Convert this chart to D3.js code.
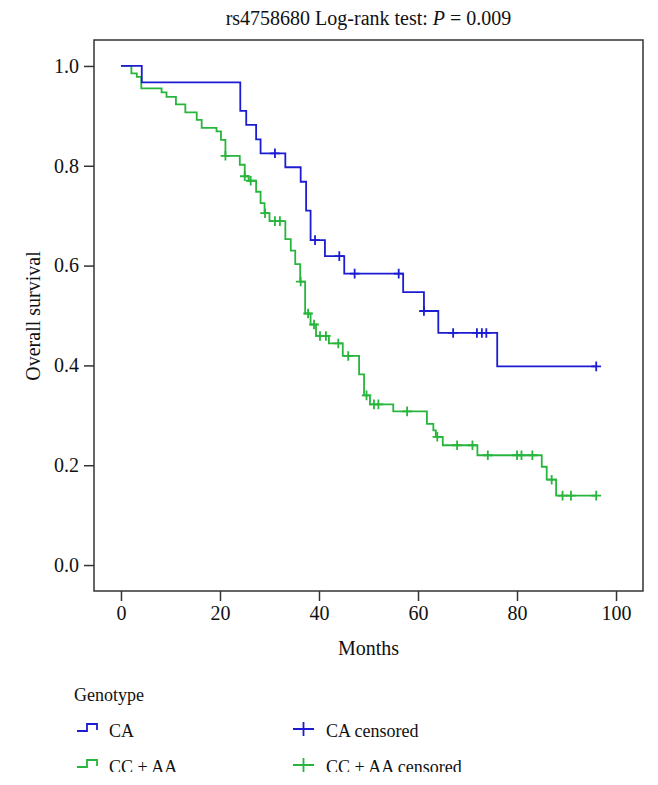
<!DOCTYPE html>
<html>
<head>
<meta charset="utf-8">
<script src="https://cdn.jsdelivr.net/npm/d3@7/dist/d3.min.js"></script>
<style>
  html, body { margin: 0; padding: 0; background: #fff; }
  svg { display: block; }
  text { font-family: "Liberation Serif", "DejaVu Serif", serif; fill: #111; }
</style>
</head>
<body>
<div id="chart"></div>
<script>
// ---- Data ----
const caTimes = [0, 4.2, 24.1, 25.3, 27.3, 28.2, 33.2, 36.3, 37.4, 38.3, 41.2, 45.1, 57.0, 61.2, 64.1, 76.0];
const caSurv  = [1.0, 0.967, 0.910, 0.882, 0.853, 0.825, 0.797, 0.768, 0.710, 0.651, 0.619, 0.584, 0.547, 0.509, 0.465, 0.398];
const caCensor = [31.1, 39.2, 44.1, 47.2, 56.1, 61.2, 67.1, 71.9, 72.9, 73.8, 96.0];
const caEnd = 96.0;

const ccTimes = [0, 2.1, 3.2, 4.1, 8.2, 9.2, 11.1, 13.0, 15.3, 16.3, 19.3, 20.2, 21.1, 24.0, 25.0, 25.8, 27.3, 28.2, 29.0, 30.0, 33.2, 34.3, 35.2, 36.2, 37.2, 38.3, 39.4, 42.0, 44.8, 48.1, 49.1, 50.3, 55.0, 61.8, 63.1, 63.6, 65.0, 72.0, 85.0, 86.0, 87.9];
const ccSurv  = [1.0, 0.985, 0.978, 0.955, 0.947, 0.938, 0.923, 0.907, 0.892, 0.876, 0.869, 0.852, 0.820, 0.802, 0.779, 0.770, 0.748, 0.725, 0.705, 0.689, 0.653, 0.630, 0.603, 0.568, 0.504, 0.482, 0.459, 0.444, 0.419, 0.382, 0.340, 0.322, 0.308, 0.283, 0.270, 0.257, 0.240, 0.220, 0.197, 0.171, 0.139];
const ccCensor = [21.1, 25.0, 26.2, 29.1, 31.1, 32.1, 36.3, 37.8, 39.0, 40.2, 41.4, 43.9, 45.9, 49.6, 51.1, 52.0, 57.8, 63.9, 67.9, 71.0, 74.1, 80.0, 80.9, 83.1, 87.0, 89.2, 90.9, 96.0];
const ccEnd = 96.0;

const xTicks = [0, 20, 40, 60, 80, 100];
const yTicks = [0.0, 0.2, 0.4, 0.6, 0.8, 1.0];
const seriesNames = ["CA", "CC + AA"];
const censorNames = ["CA censored", "CC + AA censored"];
const titleText = "rs4758680 Log-rank test: ";
const pText = "P";
const pValue = " = 0.009";
const xLabel = "Months";
const yLabel = "Overall survival";
const legendTitle = "Genotype";

// ---- Layout ----
const W = 658, H = 785;
const box = { left: 94, right: 643, top: 40, bottom: 591 };
const colors = ["#1c1cd2", "#27b53c"];

const svg = d3.select("#chart").append("svg").attr("width", W).attr("height", H);

const x = d3.scaleLinear().domain([-5.45, 105.45]).range([box.left, box.right]);
const y = d3.scaleLinear().domain([-0.052, 1.052]).range([box.bottom, box.top]);

// frame
svg.append("rect")
  .attr("x", box.left).attr("y", box.top)
  .attr("width", box.right - box.left).attr("height", box.bottom - box.top)
  .attr("fill", "none").attr("stroke", "#333").attr("stroke-width", 1.5);

// axes
const xAxis = d3.axisBottom(x).tickValues(xTicks).tickSize(10).tickPadding(5).tickFormat(d3.format("d"));
const gx = svg.append("g").attr("transform", `translate(0,${box.bottom})`).call(xAxis);
gx.select(".domain").remove();
gx.selectAll("line").attr("stroke", "#333").attr("stroke-width", 1.5);
gx.selectAll("text").style("font-size", "20px").attr("fill", "#111").style("font-family", '"Liberation Serif", serif');

const yAxis = d3.axisLeft(y).tickValues(yTicks).tickSize(10).tickPadding(5).tickFormat(d3.format(".1f"));
const gy = svg.append("g").attr("transform", `translate(${box.left},0)`).call(yAxis);
gy.select(".domain").remove();
gy.selectAll("line").attr("stroke", "#333").attr("stroke-width", 1.5);
gy.selectAll("text").style("font-size", "20px").attr("fill", "#111").style("font-family", '"Liberation Serif", serif');

// axis labels
svg.append("text").attr("x", (box.left + box.right) / 2).attr("y", 655)
  .attr("text-anchor", "middle").style("font-size", "20px").text(xLabel);
svg.append("text").attr("transform", `translate(40,316) rotate(-90)`)
  .attr("text-anchor", "middle").style("font-size", "20px").text(yLabel);

// title
const t = svg.append("text").attr("x", (box.left + box.right) / 2).attr("y", 25)
  .attr("text-anchor", "middle").style("font-size", "20px");
t.append("tspan").text(titleText);
t.append("tspan").style("font-style", "italic").text(pText);
t.append("tspan").text(pValue);

// step curves
function stepPoints(times, surv, end) {
  const pts = times.map((tm, i) => [tm, surv[i]]);
  pts.push([end, surv[surv.length - 1]]);
  return pts;
}
function survAt(times, surv, tm) {
  let s = surv[0];
  for (let i = 0; i < times.length; i++) if (times[i] <= tm + 1e-9) s = surv[i];
  return s;
}
const line = d3.line().x(d => x(d[0])).y(d => y(d[1])).curve(d3.curveStepAfter);

const series = [
  { times: ccTimes, surv: ccSurv, cens: ccCensor, end: ccEnd, color: colors[1] },
  { times: caTimes, surv: caSurv, cens: caCensor, end: caEnd, color: colors[0] }
];
const plot = svg.append("g");
series.forEach(s => {
  plot.append("path").datum(stepPoints(s.times, s.surv, s.end))
    .attr("d", line).attr("fill", "none").attr("stroke", s.color).attr("stroke-width", 1.8);
  const cs = 4.8;
  plot.selectAll(null).data(s.cens).enter().append("path")
    .attr("d", d => {
      const cx = x(d), cy = y(survAt(s.times, s.surv, d));
      return `M${cx - cs},${cy}H${cx + cs}M${cx},${cy - cs}V${cy + cs}`;
    })
    .attr("fill", "none").attr("stroke", s.color).attr("stroke-width", 1.8);
});

// legend (the reference is cropped just below the second row)
svg.append("clipPath").attr("id", "legclip")
  .append("rect").attr("x", 0).attr("y", 660).attr("width", W).attr("height", 112);
const lg = svg.append("g").attr("clip-path", "url(#legclip)");
lg.append("text").attr("x", 74).attr("y", 701).style("font-size", "18px").text(legendTitle);
const rowsY = [731, 767];
seriesNames.forEach((nm, i) => {
  const cy = rowsY[i];
  lg.append("path").attr("d", `M77,${cy}H87V${cy - 7}H97V${cy - 1}`)
    .attr("fill", "none").attr("stroke", colors[i]).attr("stroke-width", 1.8);
  lg.append("text").attr("x", 109).attr("y", cy).attr("dy", "0.35em").style("font-size", "18px").text(nm);
});
censorNames.forEach((nm, i) => {
  const cy = rowsY[i] - 2;
  lg.append("path").attr("d", `M293,${cy}H314M303.5,${cy - 7}V${cy + 7}`)
    .attr("fill", "none").attr("stroke", colors[i]).attr("stroke-width", 1.8);
  lg.append("text").attr("x", 326).attr("y", rowsY[i]).attr("dy", "0.35em").style("font-size", "18px").text(nm);
});
</script>
</body>
</html>
